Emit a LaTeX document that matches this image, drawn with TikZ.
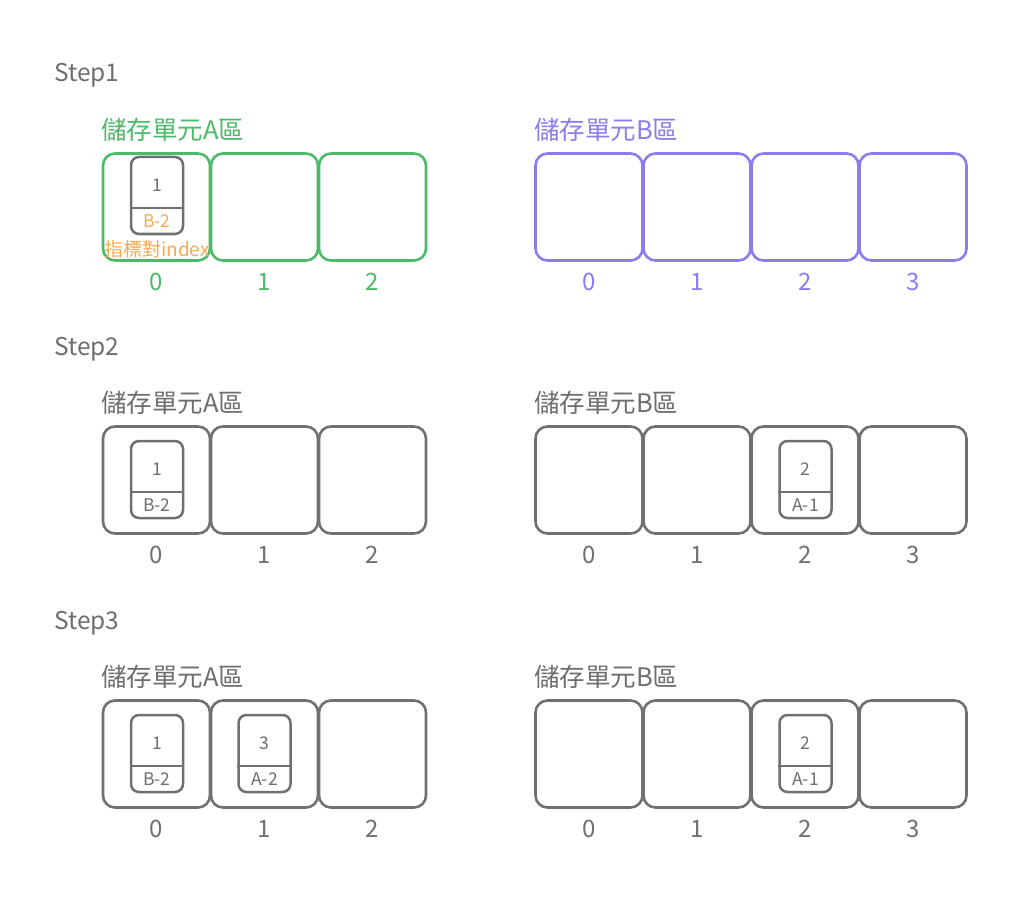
\documentclass[tikz,border=0pt]{standalone}
\usepackage{fontspec}
\setmainfont{Noto Sans CJK TC}
\definecolor{cgreen}{RGB}{76,186,104}
\definecolor{cpurple}{RGB}{140,124,240}
\definecolor{corange}{RGB}{246,170,80}
\definecolor{cgray}{RGB}{112,112,112}
\definecolor{ctext}{RGB}{110,110,110}
\tikzset{
  slot/.style={draw=#1, line width=2.6pt, rounded corners=12pt, minimum width=107pt, minimum height=107pt, inner sep=0pt},
  ptr/.style={draw=cgray, line width=2.5pt, rounded corners=8pt, minimum width=52pt, minimum height=77pt, inner sep=0pt},
  steplbl/.style={anchor=west, font=\fontsize{24.5}{26}\selectfont, text=ctext, inner sep=0pt},
  arealbl/.style={anchor=west, font=\fontsize{25.5}{28}\selectfont, text=#1, inner sep=0pt},
  idx/.style={font=\fontsize{24}{26}\selectfont, text=#1, inner sep=0pt},
  small/.style={font=\fontsize{17.5}{19}\selectfont, text=#1, inner sep=0pt},
}
% #1 name, #2 x center, #3 y top, #4 number, #5 label, #6 label colour
\newcommand{\ptrcell}[6]{%
  \node[ptr] (#1) at (#2,#3+38.5) {};
  \draw[cgray, line width=2.5pt] (#1.west |- 0,#3+51) coordinate (#1-l) -- (#1.east |- 0,#3+51) coordinate (#1-r);
  \node[small=ctext] (#1-n) at (#2,#3+28.5) {#4};
  \node[small=#6] (#1-t) at (#2,#3+64.5) {#5};
}
\begin{document}
\begin{tikzpicture}[x=1pt,y=-1pt]
\useasboundingbox[fill=white] (0,0) rectangle (1024,901);
% ---------- rows ----------
\foreach \r/\yc/\ya/\yi/\yt/\ca/\cb in {1/207/130/282/75/cgreen/cpurple, 2/480/403/555/349/cgray/cgray, 3/754/677/829/623/cgray/cgray}{
  \node[steplbl] (step\r) at (54,\yt) {Step\r};
  \ifnum\r=1
    \node[arealbl=cgreen] (la\r) at (101,\ya) {儲存單元A區};
    \node[arealbl=cpurple] (lb\r) at (534,\ya) {儲存單元B區};
  \else
    \node[arealbl=ctext] (la\r) at (101,\ya) {儲存單元A區};
    \node[arealbl=ctext] (lb\r) at (534,\ya) {儲存單元B區};
  \fi
  \foreach \i in {0,1,2}{
    \node[slot=\ca] (a\r-\i) at (156.5+108*\i,\yc) {};
    \node[idx=\ca] (ia\r-\i) at (156.5+108*\i,\yi) {\i};
  }
  \foreach \i in {0,1,2,3}{
    \node[slot=\cb] (b\r-\i) at (589+108*\i,\yc) {};
    \node[idx=\cb] (ib\r-\i) at (589+108*\i,\yi) {\i};
  }
}
% ---------- step 1 ----------
\ptrcell{p1a}{157}{157}{1}{B-2}{corange}
\node[small=corange, font=\fontsize{19}{20}\selectfont] (hint) at (157,249) {指標對index};
% ---------- step 2 ----------
\ptrcell{p2a}{157}{441}{1}{B-2}{ctext}
\ptrcell{p2b}{805.5}{441}{2}{A-1}{ctext}
% ---------- step 3 ----------
\ptrcell{p3a}{157}{715}{1}{B-2}{ctext}
\ptrcell{p3b}{264.5}{715}{3}{A-2}{ctext}
\ptrcell{p3c}{805.5}{715}{2}{A-1}{ctext}
\end{tikzpicture}
\end{document}
